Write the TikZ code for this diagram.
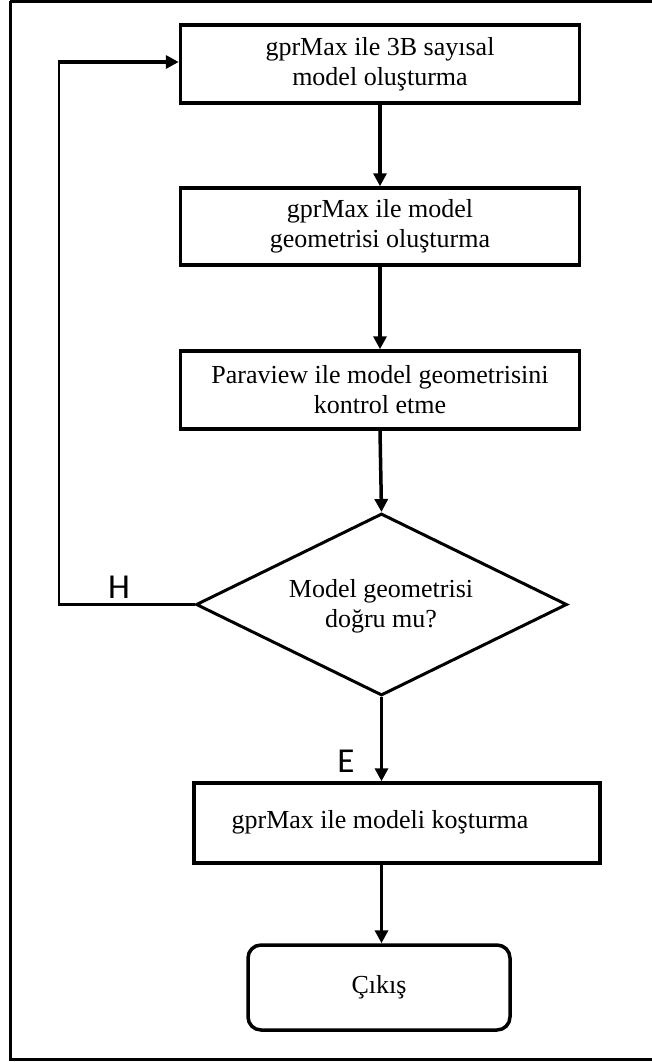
\documentclass[tikz,border=0pt]{standalone}
\usepackage{fontspec}
\setmainfont{Liberation Serif}
\newfontfamily\calib{Carlito}
\usetikzlibrary{arrows.meta,shapes.geometric}
\tikzset{
  box/.style={draw, line width=3.5pt, rectangle, align=center, inner sep=0pt,
    font=\fontsize{26}{30}\selectfont},
  dec/.style={draw, line width=3pt, diamond, inner sep=0pt, align=center,
    font=\fontsize{26}{30}\selectfont},
  flow/.style={line width=3.5pt, -{Triangle[length=13pt,width=13pt]}},
  thinline/.style={line width=2.5pt},
  lab/.style={font=\calib\fontsize{35}{40}\selectfont, inner sep=0pt},
  txt/.style={font=\fontsize{26}{30}\selectfont, inner sep=0pt, align=center},
  frame/.style={draw, line width=3pt}
}
\begin{document}
\begin{tikzpicture}[x=1pt,y=-1pt]
\useasboundingbox (0,0) rectangle (652,1062);
\draw[frame] (10,1.5) -- (10,1059) -- (670,1059);
\draw[frame] (10,1.5) -- (670,1.5);

\node[box, minimum width=399pt, minimum height=78pt] (b1) at (380,64)
  {gprMax ile 3B sayısal\\model oluşturma};
\node[box, minimum width=399pt, minimum height=77pt] (b2) at (380,226.5)
  {gprMax ile model\\geometrisi oluşturma};
\node[box, minimum width=399pt, minimum height=78pt] (b3) at (380,390)
  {Paraview ile model geometrisini\\kontrol etme};
\node[dec, minimum width=371pt, minimum height=182pt] (d) at (381.5,604.5) {};
\node[txt] (dt) at (381,606) {Model geometrisi\\doğru mu?};
\node[box, minimum width=406pt, minimum height=80pt] (b5) at (397,823) {};
\node[txt] (t5) at (380,822) {gprMax ile modeli koşturma};
\node[box, rounded corners=13pt, minimum width=262pt, minimum height=85pt] (ex) at (379,987.5) {Çıkış};

\draw[flow] (b1.south) -- (b2.north);
\draw[flow] (b2.south) -- (b3.north);
\draw[flow] (b3.south) -- (d.north);
\draw[flow] (d.south) -- (d.south |- b5.north);
\coordinate (c2) at (b5.south -| d.south);
\draw[flow] (c2) -- (c2 |- ex.north);

\coordinate (c1) at (59,62);
\draw[thinline] (d.west) -- (d.west -| c1) -- (c1);
\draw[flow] ([xshift=-1.2pt]c1) -- (b1.west |- c1);

\node[lab] (h) at (119,587) {H};
\node[lab] (e) at (346,761) {E};
\end{tikzpicture}
\end{document}
